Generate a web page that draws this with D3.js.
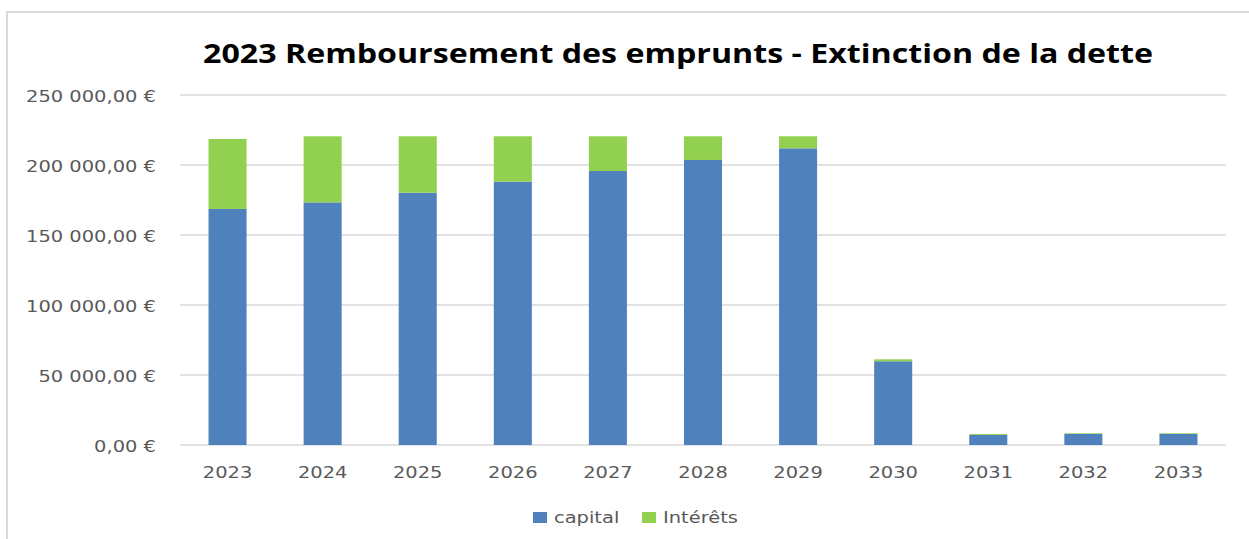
<!DOCTYPE html>
<html>
<head>
<meta charset="utf-8">
<script src="https://cdn.jsdelivr.net/npm/d3@7"></script>
<style>
html,body{margin:0;padding:0;background:#fff;}
svg{display:block;}
</style>
</head>
<body>
<svg id="chart" width="1249" height="539"></svg>
<script>
const years = ["2023","2024","2025","2026","2027","2028","2029","2030","2031","2032","2033"];
const capital = [168600,173300,180200,188100,195700,203600,211900,59800,7200,7900,7900];
const interets = [50000,47200,40300,32400,24800,16900,8600,1400,700,500,500];
const yTicks = [0,50000,100000,150000,200000,250000];
const seriesNames = ["capital","Intérêts"];
const colors = ["#4f81bd","#92d050"];
const title = "2023 Remboursement des emprunts - Extinction de la dette";

const svg = d3.select("#chart");
const W = 1249, H = 539;
const m = {left:180, right:23, top:95, bottom:94};

// outer chart frame
svg.append("rect").attr("x",7).attr("y",12).attr("width",1400).attr("height",700)
  .attr("fill","none").attr("stroke","#d9d9d9").attr("stroke-width",2);

const x = d3.scaleBand().domain(years).range([m.left, W-m.right]).paddingInner(0.6).paddingOuter(0.3);
const y = d3.scaleLinear().domain([0,250000]).range([H-m.bottom, m.top]);

const fmt = v => {
  const s = d3.format(",.2f")(v).replace(/,/g," ").replace(".",",");
  return s + " €";
};

// gridlines
svg.append("g").selectAll("line").data(yTicks).join("line")
  .attr("x1",m.left).attr("x2",W-m.right)
  .attr("y1",d=>y(d)).attr("y2",d=>y(d))
  .attr("stroke","#d9d9d9").attr("stroke-width",1.5);

// y labels
const yl = svg.append("g").selectAll("g").data(yTicks).join("g")
  .attr("transform",d=>`translate(156,${y(d)+6.5}) scale(1.18,1)`);
yl.append("text").attr("text-anchor","end")
  .attr("font-family","DejaVu Sans").attr("font-size",16.5).attr("fill","#595959")
  .text(d=>fmt(d));

// stacked bars
const data = years.map((yr,i)=>({year:yr, capital:capital[i], interets:interets[i]}));
const stack = d3.stack().keys(["capital","interets"])(data);
svg.append("g").selectAll("g").data(stack).join("g")
  .attr("fill",(d,i)=>colors[i])
  .selectAll("rect").data(d=>d).join("rect")
  .attr("x",d=>x(d.data.year)).attr("width",x.bandwidth())
  .attr("y",d=>y(d[1])).attr("height",d=>y(d[0])-y(d[1]));

// x labels
const xl = svg.append("g").selectAll("g").data(years).join("g")
  .attr("transform",d=>`translate(${x(d)+x.bandwidth()/2},478) scale(1.18,1)`);
xl.append("text").attr("text-anchor","middle")
  .attr("font-family","DejaVu Sans").attr("font-size",16.5).attr("fill","#595959")
  .text(d=>d);

// title
svg.append("text").attr("x",678).attr("y",63).attr("text-anchor","middle")
  .attr("font-family","Open Sans").attr("font-weight","bold").attr("font-size",27)
  .attr("fill","#000").attr("textLength",950).attr("lengthAdjust","spacingAndGlyphs")
  .text(title);

// legend
const legX = [533,642];
const lg = svg.append("g").selectAll("g").data(seriesNames).join("g");
lg.append("rect").attr("x",(d,i)=>legX[i]).attr("y",512).attr("width",14).attr("height",11)
  .attr("fill",(d,i)=>colors[i]);
lg.append("g").attr("transform",(d,i)=>`translate(${legX[i]+21},523) scale(1.18,1)`)
  .append("text").attr("font-family","DejaVu Sans").attr("font-size",16.5).attr("fill","#595959")
  .text(d=>d);
</script>
</body>
</html>
